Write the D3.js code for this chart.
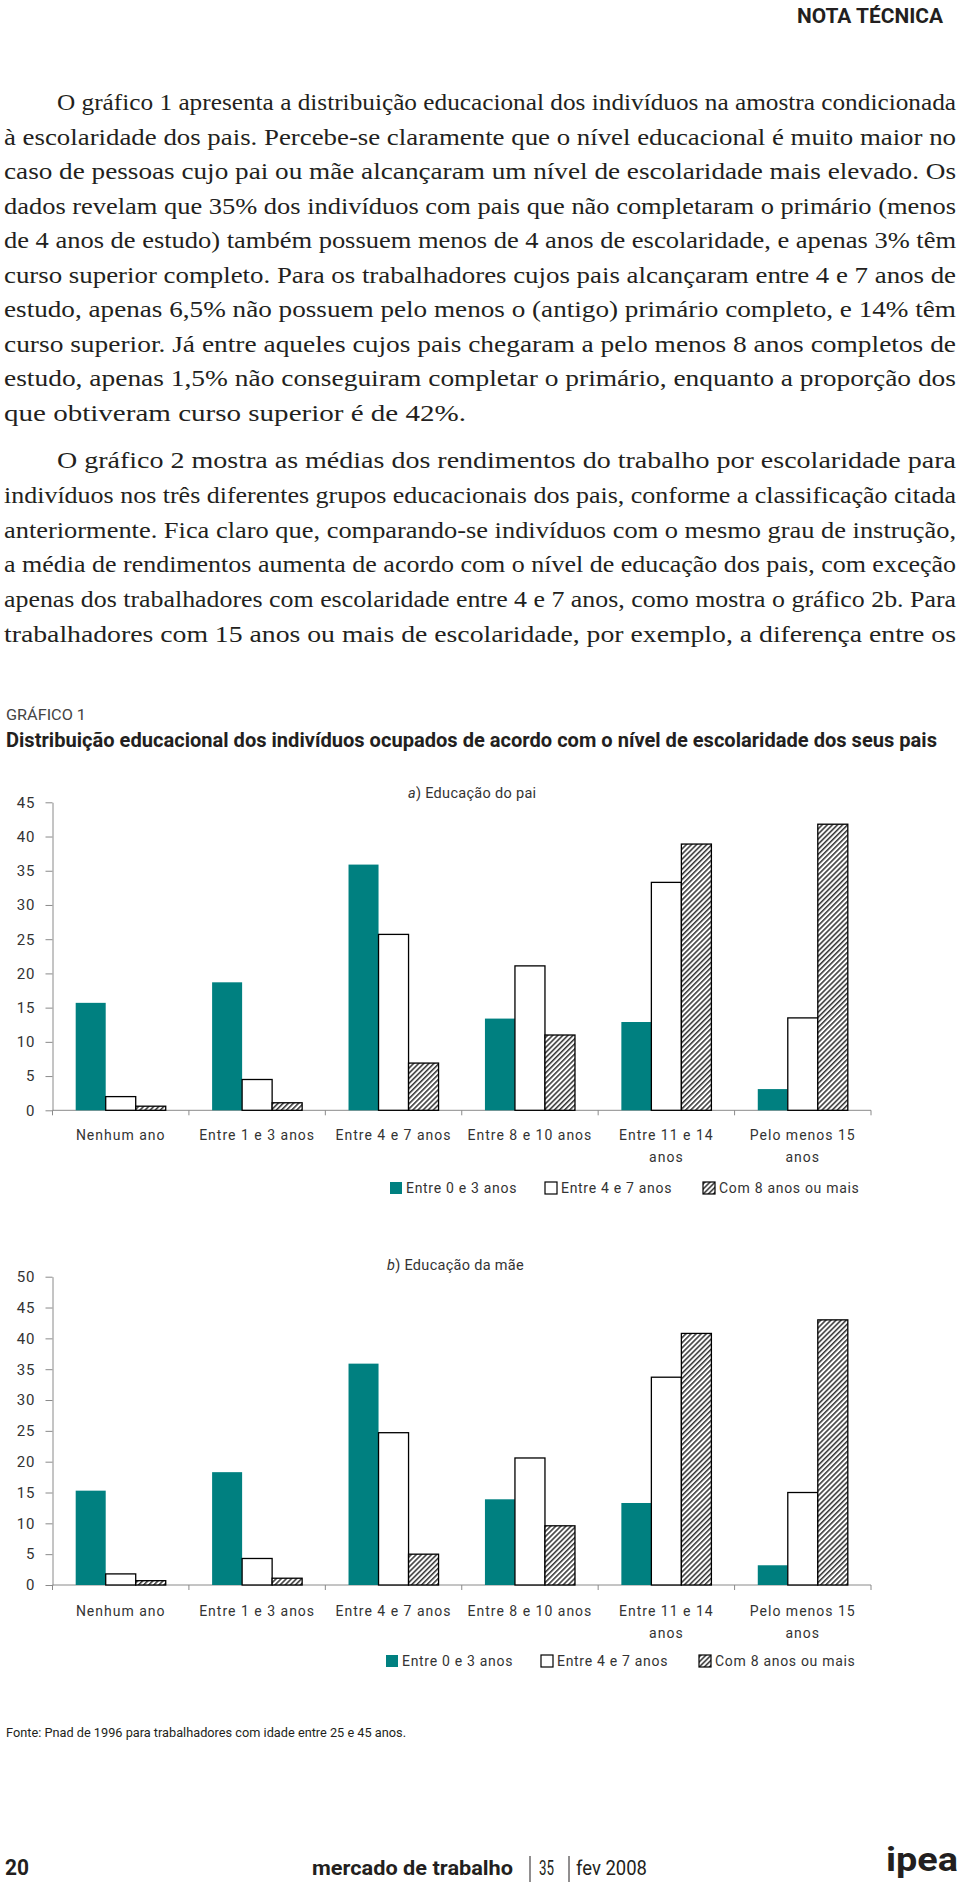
<!DOCTYPE html>
<html><head><meta charset="utf-8">
<script src="https://cdn.jsdelivr.net/npm/d3@7"></script>
<style>
body{margin:0;background:#fff}
svg{display:block}
</style></head><body>
<svg id="page" width="960" height="1884"></svg>
<script>
// ---------- data ----------
const categories = ["Nenhum ano","Entre 1 e 3 anos","Entre 4 e 7 anos","Entre 8 e 10 anos","Entre 11 e 14 anos","Pelo menos 15 anos"];
const seriesNames = ["Entre 0 e 3 anos","Entre 4 e 7 anos","Com 8 anos ou mais"];
const paiLow  = [15.7, 18.7, 35.9, 13.4, 12.9, 3.1];
const paiMid  = [2.0, 4.5, 25.7, 21.1, 33.3, 13.5];
const paiHigh = [0.6, 1.1, 6.9, 11.0, 38.9, 41.8];
const maeLow  = [15.3, 18.3, 35.9, 13.9, 13.3, 3.2];
const maeMid  = [1.8, 4.3, 24.7, 20.6, 33.7, 15.0];
const maeHigh = [0.7, 1.1, 5.0, 9.6, 40.8, 43.0];
const ticksA = [0,5,10,15,20,25,30,35,40,45];
const ticksB = [0,5,10,15,20,25,30,35,40,45,50];

const para1 = [
 "O gráfico 1 apresenta a distribuição educacional dos indivíduos na amostra condicionada",
 "à escolaridade dos pais. Percebe-se claramente que o nível educacional é muito maior no",
 "caso de pessoas cujo pai ou mãe alcançaram um nível de escolaridade mais elevado. Os",
 "dados revelam que 35% dos indivíduos com pais que não completaram o primário (menos",
 "de 4 anos de estudo) também possuem menos de 4 anos de escolaridade, e apenas 3% têm",
 "curso superior completo. Para os trabalhadores cujos pais alcançaram entre 4 e 7 anos de",
 "estudo, apenas 6,5% não possuem pelo menos o (antigo) primário completo, e 14% têm",
 "curso superior. Já entre aqueles cujos pais chegaram a pelo menos 8 anos completos de",
 "estudo, apenas 1,5% não conseguiram completar o primário, enquanto a proporção dos",
 "que obtiveram curso superior é de 42%."
];
const para2 = [
 "O gráfico 2 mostra as médias dos rendimentos do trabalho por escolaridade para",
 "indivíduos nos três diferentes grupos educacionais dos pais, conforme a classificação citada",
 "anteriormente. Fica claro que, comparando-se indivíduos com o mesmo grau de instrução,",
 "a média de rendimentos aumenta de acordo com o nível de educação dos pais, com exceção",
 "apenas dos trabalhadores com escolaridade entre 4 e 7 anos, como mostra o gráfico 2b. Para",
 "trabalhadores com 15 anos ou mais de escolaridade, por exemplo, a diferença entre os"
];

// ---------- setup ----------
const svg = d3.select("#page");
const SERIF = "'Liberation Serif','Times New Roman',serif";
const SANS = "Roboto,'Open Sans','Noto Sans',sans-serif";
const INK = "#231f20";
const TEAL = "#008080";

svg.append("rect").attr("width",960).attr("height",1884).attr("fill","#fff");

const defs = svg.append("defs");
const pat = defs.append("pattern").attr("id","hatch").attr("patternUnits","userSpaceOnUse")
  .attr("width",3.6).attr("height",3.6).attr("patternTransform","rotate(45)");
pat.append("rect").attr("width",3.6).attr("height",3.6).attr("fill","#fff");
pat.append("line").attr("x1",0.8).attr("y1",-1).attr("x2",0.8).attr("y2",5)
  .attr("stroke","#111").attr("stroke-width",1.3);

function fit(sel, w){ return sel.attr("textLength", w).attr("lengthAdjust","spacingAndGlyphs"); }

// ---------- header ----------
fit(svg.append("text").attr("x",943).attr("y",23).attr("text-anchor","end")
  .attr("font-family",SANS).attr("font-weight",700).attr("font-size",20).attr("fill",INK)
  .text("NOTA TÉCNICA"), 146);

// ---------- paragraphs ----------
function paragraph(lines, y0, lead, indentX, x0, x1, lastEnd){
  lines.forEach((ln,i)=>{
    const sx = i===0 ? indentX : x0;
    const t = svg.append("text").attr("x",sx).attr("y",y0+i*lead)
      .attr("font-family",SERIF).attr("font-size",24).attr("fill",INK).text(ln);
    const end = (i === lines.length-1 && lastEnd) ? lastEnd : x1;
    fit(t, end - sx);
  });
}
paragraph(para1, 110, 34.5, 57, 4, 956, 466);
paragraph(para2, 468, 34.8, 57, 4, 956, null);

// ---------- chart heading ----------
fit(svg.append("text").attr("x",6).attr("y",720).attr("font-family",SANS).attr("font-size",14)
  .attr("fill","#444").text("GRÁFICO 1"), 80);
fit(svg.append("text").attr("x",6).attr("y",747).attr("font-family",SANS).attr("font-weight",700)
  .attr("font-size",20).attr("fill",INK)
  .text("Distribuição educacional dos indivíduos ocupados de acordo com o nível de escolaridade dos seus pais"), 931);

// ---------- charts ----------
function wrapLabel(textSel, maxW){
  textSel.each(function(){
    const t = d3.select(this);
    const words = t.text().split(" ");
    const x = t.attr("x");
    t.text(null);
    let line = [];
    let tspan = t.append("tspan").attr("x",x).attr("dy",0);
    words.forEach(w=>{
      line.push(w);
      tspan.text(line.join(" "));
      if (tspan.node().getComputedTextLength() > maxW && line.length>1){
        line.pop(); tspan.text(line.join(" "));
        line=[w];
        tspan = t.append("tspan").attr("x",x).attr("dy",22).text(w);
      }
    });
  });
}

function chart(cfg){
  const x = d3.scaleBand().domain(categories).range([52.5, 871]);
  const bw = x.bandwidth();
  const x1 = d3.scaleBand().domain(seriesNames).range([bw*0.17, bw*0.83]);
  const y = d3.scaleLinear().domain([0, cfg.max]).range([cfg.y0, cfg.y1]);
  const g = svg.append("g");

  // title
  const tt = g.append("text").attr("x",cfg.titleX).attr("y",cfg.titleY)
    .attr("font-family",SANS).attr("font-size",14.5).attr("fill","#333").style("letter-spacing","0.3px");
  tt.append("tspan").attr("font-style","italic").text(cfg.titleLetter);
  tt.append("tspan").text(") " + cfg.titleRest);

  // y axis
  const ya = g.append("g").attr("transform","translate(52.5,0)")
    .call(d3.axisLeft(y).tickValues(cfg.ticks).tickSize(7).tickSizeOuter(0).tickPadding(10));
  ya.select(".domain").attr("stroke","#8a8a8a");
  ya.selectAll(".tick line").attr("stroke","#8a8a8a");
  ya.selectAll(".tick text").attr("font-family",SANS).attr("font-size",15).attr("fill","#333")
    .style("letter-spacing","1px");

  // x axis
  g.append("line").attr("x1",x.range()[0]).attr("x2",x.range()[1])
    .attr("y1",y(0)).attr("y2",y(0)).attr("stroke","#8a8a8a");
  const bounds = categories.map(c=>x(c)).concat([x.range()[1]]);
  g.selectAll(".xt").data(bounds).join("line").attr("class","xt")
    .attr("x1",d=>d).attr("x2",d=>d).attr("y1",y(0)).attr("y2",y(0)+5).attr("stroke","#8a8a8a");
  const lab = g.selectAll(".xl").data(categories).join("text").attr("class","xl")
    .attr("x",d=>x(d)+bw/2).attr("y",cfg.labelY).attr("text-anchor","middle")
    .attr("font-family",SANS).attr("font-size",14).attr("fill","#333").style("letter-spacing","1px")
    .text(d=>d);
  wrapLabel(lab, 131);

  // bars
  const fills = [TEAL, "#fff", "url(#hatch)"];
  const strokes = ["none", "#000", "#000"];
  const seriesVals = [cfg.low, cfg.mid, cfg.high];
  const groups = g.selectAll(".grp").data(categories).join("g").attr("class","grp")
    .attr("transform",d=>`translate(${x(d)},0)`);
  groups.selectAll("rect").data((c,i)=>seriesNames.map((s,k)=>({s, k, v: seriesVals[k][i]})))
    .join("rect")
    .attr("x",d=>x1(d.s)).attr("width",x1.bandwidth())
    .attr("y",d=>y(d.v)).attr("height",d=>y(0)-y(d.v))
    .attr("fill",d=>fills[d.k]).attr("stroke",d=>strokes[d.k]).attr("stroke-width",1.3);

  // legend
  const offs = [0, 155, 313];
  const lg = g.selectAll(".lg").data(seriesNames).join("g").attr("class","lg")
    .attr("transform",(d,i)=>`translate(${cfg.legX+offs[i]},${cfg.legY})`);
  lg.append("rect").attr("x",0).attr("y",-6).attr("width",12).attr("height",12)
    .attr("fill",(d,i)=>fills[i]).attr("stroke",(d,i)=>strokes[i]).attr("stroke-width",1.2);
  lg.append("text").attr("x",16).attr("y",5).attr("font-family",SANS).attr("font-size",14)
    .attr("fill","#333").style("letter-spacing","0.7px").text(d=>d);
}

chart({max:45, ticks:ticksA, y0:1110.3, y1:802.3, low:paiLow, mid:paiMid, high:paiHigh,
  titleLetter:"a", titleRest:"Educação do pai", titleX:408, titleY:798, labelY:1140, legX:390, legY:1188});
chart({max:50, ticks:ticksB, y0:1585, y1:1276.7, low:maeLow, mid:maeMid, high:maeHigh,
  titleLetter:"b", titleRest:"Educação da mãe", titleX:387, titleY:1270, labelY:1616, legX:386, legY:1661});

// ---------- source & footer ----------
fit(svg.append("text").attr("x",6).attr("y",1737).attr("font-family",SANS).attr("font-size",13)
  .attr("fill",INK).text("Fonte: Pnad de 1996 para trabalhadores com idade entre 25 e 45 anos."), 400);

fit(svg.append("text").attr("x",5).attr("y",1875).attr("font-family",SANS).attr("font-weight",700)
  .attr("font-size",22).attr("fill",INK).text("20"), 24);
fit(svg.append("text").attr("x",312).attr("y",1875).attr("font-family",SANS).attr("font-weight",700)
  .attr("font-size",21).attr("fill",INK).text("mercado de trabalho"), 201);
svg.append("line").attr("x1",530).attr("x2",530).attr("y1",1856).attr("y2",1882).attr("stroke",INK).attr("stroke-width",1);
fit(svg.append("text").attr("x",539).attr("y",1875).attr("font-family",SANS)
  .attr("font-size",21).attr("fill",INK).text("35"), 15);
svg.append("line").attr("x1",569).attr("x2",569).attr("y1",1856).attr("y2",1882).attr("stroke",INK).attr("stroke-width",1);
fit(svg.append("text").attr("x",576).attr("y",1875).attr("font-family",SANS)
  .attr("font-size",21).attr("fill",INK).text("fev 2008"), 71);
fit(svg.append("text").attr("x",958).attr("y",1871).attr("text-anchor","end").attr("font-family",SANS)
  .attr("font-weight",700).attr("font-size",34).attr("fill",INK).text("ipea"), 72);
</script>
</body></html>
